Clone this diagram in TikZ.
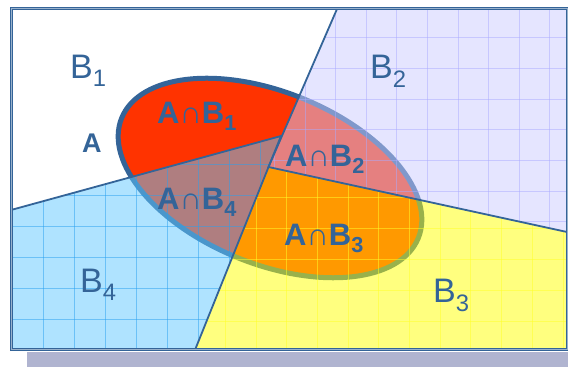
\documentclass[tikz,border=0pt]{standalone}
\usepackage{fontspec}
\setmainfont{Liberation Sans}
\definecolor{edgeblue}{RGB}{52,100,152}
\definecolor{redA}{RGB}{255,51,0}
\definecolor{lavB}{RGB}{205,205,255}
\definecolor{lavgrid}{RGB}{170,170,255}
\definecolor{yelB}{RGB}{255,255,0}
\definecolor{yelgrid}{RGB}{255,255,40}
\definecolor{bluB}{RGB}{97,201,255}
\definecolor{blugrid}{RGB}{40,160,240}
\definecolor{shadowgray}{RGB}{176,180,208}

\begin{document}
\begin{tikzpicture}[x=1pt,y=1pt,
    edge/.style={edgeblue, line width=1.8pt},
    region/.style={fill opacity=0.5},
    gridline/.style={line width=0.8pt, draw opacity=0.5},
    setname/.style={text=edgeblue, font=\fontsize{34}{34}\selectfont, inner sep=0pt, anchor=base west},
    cutname/.style={text=edgeblue, font=\bfseries\fontsize{31}{31}\selectfont, inner sep=0pt, anchor=base west}]

        \useasboundingbox (0,0) rectangle (568,367);

        % shadow and sheet
        \fill[shadowgray] (27,0) rectangle (568,15);
        \fill[white] (11,17) rectangle (567,358);

        % corners of the parts
        \coordinate (c) at (268.5,200);
        \coordinate (b2top) at (337,358);
        \coordinate (b2tr) at (567,358);
        \coordinate (b2r) at (567,135);
        \coordinate (b3br) at (567,17);
        \coordinate (b34) at (195,17);
        \coordinate (b4bl) at (11,17);
        \coordinate (b4l) at (11,157);
        \coordinate (b4top) at (281,231);

        % set A
        \draw[edgeblue, line width=5pt, fill=redA] (270,189) ellipse [x radius=160, y radius=86, rotate=-22];

        % B2
        \begin{scope}
            \clip (b2top) -- (b2tr) -- (b2r) -- (c) -- cycle;
            \fill[lavB, region] (b2top) -- (b2tr) -- (b2r) -- (c) -- cycle;
            \foreach \x in {274.3,304.9,...,565} \draw[lavgrid, gridline] (\x,130) -- (\x,360);
            \foreach \y in {145.1,175.8,...,350} \draw[lavgrid, gridline] (260,\y) -- (570,\y);
        \end{scope}

        % B3
        \begin{scope}
            \clip (c) -- (b2r) -- (b3br) -- (b34) -- cycle;
            \fill[yelB, region] (c) -- (b2r) -- (b3br) -- (b34) -- cycle;
            \foreach \x in {194.5,225.2,...,565} \draw[yelgrid, gridline] (\x,15) -- (\x,205);
            \foreach \y in {45.3,76.3,...,205} \draw[yelgrid, gridline] (190,\y) -- (570,\y);
        \end{scope}

        % B4
        \begin{scope}
            \clip (b4l) -- (b4top) -- (b34) -- (b4bl) -- cycle;
            \fill[bluB, region] (b4l) -- (b4top) -- (b34) -- (b4bl) -- cycle;
            \foreach \x in {43,74,...,290} \draw[blugrid, gridline] (\x,15) -- (\x,235);
            \foreach \y in {47.7,78.7,...,235} \draw[blugrid, gridline] (10,\y) -- (290,\y);
        \end{scope}

        % borders of the parts
        \draw[edge] (b2top) -- (c) -- (b2r);
        \draw[edge] (b4l) -- (b4top) -- (b34);

        % frame
        \draw[edgeblue, line width=1pt, double=edgeblue!50, double distance=1pt] (b4bl) rectangle (b2tr);

        % names
        \node[setname] (b1) at (70,288) {B\textsubscript{1}};
        \node[setname] (b2) at (370,288) {B\textsubscript{2}};
        \node[setname] (b3) at (433,64) {B\textsubscript{3}};
        \node[setname] (b4) at (80,74) {B\textsubscript{4}};
        \node[cutname, font=\bfseries\fontsize{27}{27}\selectfont] (a) at (82,214) {A};
        \node[cutname] (ab1) at (157,243) {A∩B\textsubscript{1}};
        \node[cutname] (ab2) at (285,200) {A∩B\textsubscript{2}};
        \node[cutname] (ab3) at (284,121) {A∩B\textsubscript{3}};
        \node[cutname] (ab4) at (157,157) {A∩B\textsubscript{4}};
    \end{tikzpicture}
\end{document}
